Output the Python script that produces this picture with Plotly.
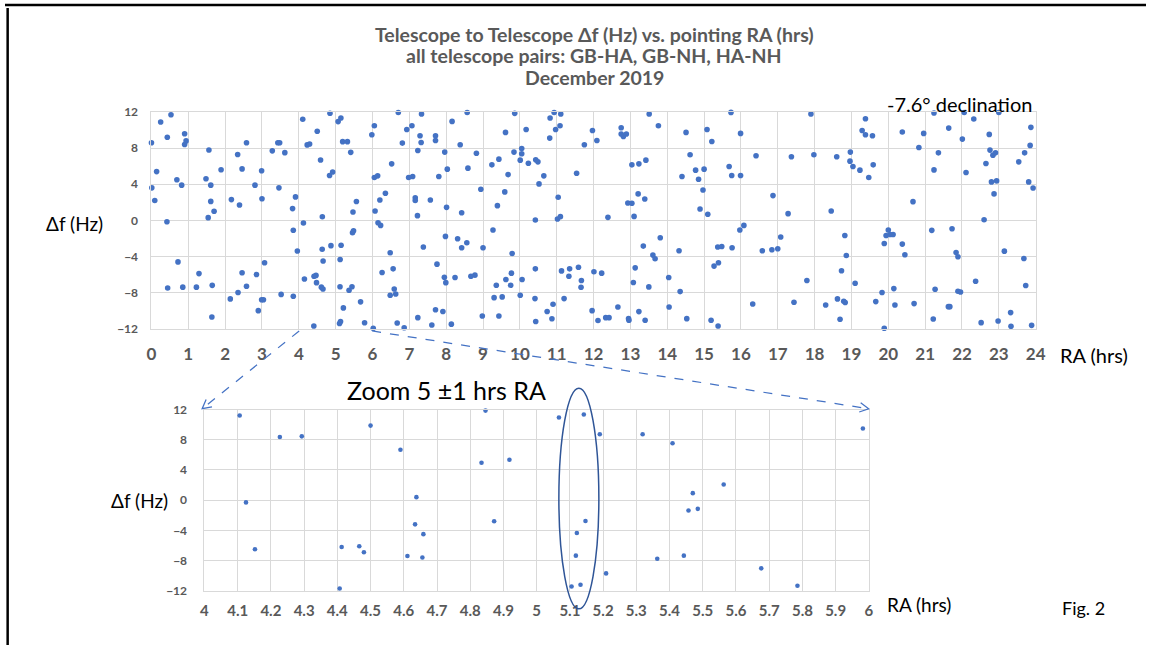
import numpy as np
import plotly.graph_objects as go

# ---------------- data (RA hours, delta f Hz) ----------------
ra_hrs = [
    0.53, 0.25, 0.00, 0.43, 0.90, 0.94, 0.90, 0.14, 0.01, 0.09, 0.69, 0.82, 0.42, 0.72, 0.44, 0.85,
    1.56, 1.48, 1.61, 1.61, 1.70, 1.54, 1.29, 1.22, 1.65, 1.64, 1.89,
    2.34, 2.46, 2.58, 2.17, 2.39, 2.81, 2.46, 2.58, 2.35, 2.14, 2.85, 2.90, 2.99,
    3.04, 2.99, 3.00, 3.07, 3.28, 3.43, 3.48, 3.62, 3.46, 3.52, 3.91, 3.83, 3.85, 3.96, 3.85,
    4.106, 4.125, 4.152, 4.227, 4.293, 4.407, 4.413, 4.466, 4.480, 4.500, 4.590, 4.638, 4.634,
    4.659, 4.611, 4.656, 4.846, 4.834, 4.918, 4.872,
    5.067, 5.142, 5.190, 5.319, 5.409, 5.982, 5.563, 5.470, 5.457, 5.485, 5.147, 5.121, 5.118,
    5.363, 5.443, 5.209, 5.676, 5.105, 5.132, 5.785,
    6.05, 6.70, 7.33, 6.93, 7.07, 6.81, 7.29, 7.32, 7.71, 7.71, 7.23, 7.96, 6.52, 6.05, 6.14,
    6.98, 7.09, 7.80, 8.03, 6.35, 6.20, 6.07, 7.16, 7.16, 7.57, 7.22, 8.01, 6.15, 6.22, 7.38,
    7.98, 6.48, 6.26, 6.56, 7.75, 7.95, 7.99, 6.59, 6.48, 6.63, 7.23, 7.71, 7.91, 6.67, 6.86,
    7.61, 8.14, 6.02,
    8.57, 8.16, 8.38, 8.82, 8.59, 8.42, 8.31, 8.42, 8.56, 9.00, 8.94, 8.24, 8.67, 8.78, 8.98,
    9.86, 9.61, 10.17, 9.24, 9.43, 9.84, 10.05, 10.05, 10.01, 9.68, 10.23, 9.59, 9.39, 9.27,
    9.79, 9.77, 9.62, 9.36, 9.75, 10.06, 10.01, 9.30, 9.52, 9.43,
    10.93, 11.11, 10.82, 10.97, 11.09, 10.81, 10.43, 10.49, 10.65, 10.52, 11.04, 10.42, 11.02,
    11.10, 10.42, 10.41, 10.43, 10.90, 10.74, 10.87, 11.13, 11.20, 11.35, 11.33, 11.59, 11.67,
    11.66, 11.54, 11.75, 11.97, 12.09, 12.01, 12.22, 11.96, 12.12,
    12.39, 12.75, 12.75, 12.81, 12.89, 13.51, 13.76, 13.04, 13.23, 13.42, 13.21, 12.93, 13.04,
    13.39, 13.10, 13.81, 13.35, 13.61, 13.67, 13.13, 13.08, 13.50, 12.66, 13.23, 12.33, 12.42,
    12.95, 12.96, 13.40,
    14.04, 14.35, 14.05, 14.32, 14.51, 14.62, 14.40, 14.77, 14.85, 15.00, 14.97, 14.89, 15.10,
    15.08, 15.21, 14.53, 15.19, 15.38, 15.27, 15.39, 15.37, 15.48, 15.76, 15.73, 15.99, 15.68,
    15.75, 15.99, 15.97, 16.08,
    16.32, 16.41, 17.37, 16.87, 17.28, 17.08, 16.58, 16.84, 17.00, 17.44, 17.90, 17.98, 17.79,
    18.30, 18.45, 18.60, 18.73, 18.62, 18.69, 18.79, 18.83, 18.82, 18.86, 18.97, 18.96, 19.04,
    19.23, 19.47, 19.59, 19.29, 19.38, 19.38, 19.57, 19.10, 19.66, 19.83, 19.89, 20.00, 19.94,
    19.89, 20.05, 20.13, 20.15, 20.18,
    20.38, 20.38, 20.45, 20.83, 20.67, 20.70, 20.96, 21.24, 21.36, 21.24, 21.18, 21.73, 21.27,
    21.22, 21.64, 22.06, 22.32, 22.01, 22.11, 21.84, 21.89, 21.89, 21.96, 21.63, 21.67, 22.37,
    22.52, 22.74, 22.76, 22.84, 22.91, 22.65, 22.80, 22.94, 22.87, 22.60, 23.00, 23.15, 22.98,
    23.32, 23.33, 23.54, 23.70, 23.87, 23.85, 23.81, 23.93, 23.68, 23.73, 23.89,
]
delta_f = [
    11.7, 10.9, 8.6, 9.2, 9.6, 8.8, 8.4, 5.4, 3.6, 2.2, 4.5, 3.9, -0.15, -4.6, -7.5, -7.4,
    7.8, 4.6, 3.9, 2.1, 1.0, 0.3, -5.9, -7.4, -7.2, -10.7, 5.6,
    7.3, 5.7, 8.6, 2.3, 1.7, 3.9, -5.8, -7.3, -8.0, -8.7, -6.0, -10.0, -8.8,
    -8.8, 5.5, 2.4, -4.7, 7.7, 8.6, 8.6, 7.5, 3.6, -8.2, 2.6, 1.3, -1.1, -3.4, -8.4,
    11.2, -0.3, -6.5, 8.36, 8.45, -11.7, -6.2, -6.1, -6.9, 9.87, 6.68, 0.4, -3.2,
    -4.5, -7.4, -7.6, 11.86, 4.96, 5.35, -2.8,
    10.94, 11.34, 8.72, 8.72, 7.53, 9.48, 2.08, 0.93, -1.37, -1.15, -2.75, -4.34, -7.35,
    -7.75, -7.35, -9.70, -9.03, -11.43, -11.2, -11.34,
    10.48, 11.95, 11.78, 10.07, 10.48, 8.56, 9.37, 8.63, 9.37, 8.85, 7.74, 7.56, 6.26, 4.74, 4.93,
    4.74, 4.85, 4.85, 5.67, 3.0, 2.26, 1.04, 2.5, 2.2, 2.26, 0.52, 1.44, -0.26, -0.56, -2.96,
    -1.78, -3.59, -5.78, -5.37, -4.85, -6.3, -6.9, -7.6, -8.3, -8.15, -10.78, -9.9, -10.1, -11.37, -11.9,
    -11.6, -11.5, -11.95,
    11.95, 10.96, 8.37, 7.44, 5.78, 0.85, -2.04, -3.04, -2.48, -3.04, 3.44, -6.33, -6.19, -6.07, -10.6,
    11.85, 9.74, 10.07, 6.15, 6.78, 7.56, 7.96, 7.37, 6.67, 5.07, 6.33, 3.15, 1.63, -1.07,
    -3.67, -5.85, -6.56, -7.19, -7.19, -6.56, -8.3, -8.56, -8.48, -10.6,
    11.95, 11.78, 11.33, 10.07, 10.48, 9.11, 6.7, 6.48, 4.93, 4.04, 2.56, 0.04, 0.15,
    0.41, -5.37, -8.67, -11.2, -9.3, -10.1, -10.9, -5.6, -8.67, -5.37, -6.19, -5.19, -6.67,
    -7.41, 5.22, 8.37, 9.96, 8.85, -5.7, -5.85, -10.0, -11.1,
    0.33, 10.26, 9.56, 9.3, 9.56, 11.78, 10.48, 6.15, 6.26, 6.67, 2.93, 1.93, 1.89,
    2.37, 0.44, -1.93, -2.85, -3.85, -4.26, -5.26, -6.89, -7.37, -9.59, -10.11, -10.78, -10.78,
    -10.89, -11.07, -11.07,
    -6.33, -7.89, -9.59, -3.37, 9.74, 7.26, 4.85, 5.56, 4.56, 5.67, 3.37, 1.26, 0.67,
    10.07, 8.74, -10.89, -11.07, -11.7, -5.07, -4.7, -2.96, -2.89, -3.04, 11.96, 9.63, 5.96,
    4.96, 4.96, -1.07, -0.56,
    -9.26, 7.15, 7.04, 2.74, 0.74, -1.85, -3.37, -3.26, -3.15, -9.07, 11.78, 7.26, -6.67,
    -9.37, 1.04, 7.04, -5.59, -8.7, -10.96, -8.96, -9.1, -1.67, -3.89, 7.56, 6.56, 5.96,
    5.56, 4.74, 6.15, 9.96, 11.26, 9.48, 9.37, -6.96, -9.0, -8.0, -11.95, -1.07, -1.67,
    -2.56, -1.56, -1.56, -7.56, -9.37,
    9.78, -2.63, -3.81, 8.07, 2.07, -9.22, 9.63, 11.89, 7.48, 5.59, -1.11, -0.93, -7.63,
    -10.93, 10.22, 11.95, 11.22, 9.0, 5.3, -3.56, -4.04, -7.85, -7.93, -9.56, -9.56, -6.74,
    -11.33, 9.52, 7.78, 7.22, 7.48, 6.3, 4.26, 4.37, 2.93, 0.07, 11.95, -3.41, -11.15,
    -10.22, -11.74, 6.48, 7.48, 10.3, 8.3, 4.26, 3.59, -4.22, -7.22, -11.63,
]

top_x_ticks = list(range(0, 25))
df_ticks = [-12, -8, -4, 0, 4, 8, 12]
zoom_x_ticks = [round(4 + 0.1 * i, 1) for i in range(21)]
zoom_range = [4, 6]

title_lines = ["Telescope to Telescope Δf (Hz) vs. pointing RA (hrs)",
               "all telescope pairs: GB-HA, GB-NH, HA-NH",
               "December 2019"]

# ---------------- figure geometry ----------------
W, H = 1156, 652
# the captured picture places the figure slightly inset/scaled; compensate
AX, SX = 2.85, 0.987
AY, SY = 9.0, 0.974


def px(x):
    return ((x - AX) / SX) / W


def py(y):
    return 1 - ((y - AY) / SY) / H


ra = np.array(ra_hrs)
df = np.array(delta_f)
mask = (ra >= zoom_range[0]) & (ra <= zoom_range[1])

BLUE = "#4472C4"
GRAY = "#595959"
GRID = "#D9D9D9"
FONT = "Lato, 'Open Sans', Arial, sans-serif"

fig = go.Figure()
fig.add_trace(go.Scatter(x=ra, y=df, mode="markers", xaxis="x", yaxis="y",
                         marker=dict(color=BLUE, size=5.6), cliponaxis=False,
                         showlegend=False, hoverinfo="x+y"))
fig.add_trace(go.Scatter(x=ra[mask], y=df[mask], mode="markers", xaxis="x2", yaxis="y2",
                         marker=dict(color=BLUE, size=4.6), cliponaxis=False,
                         showlegend=False, hoverinfo="x+y"))

axis_common = dict(showgrid=True, gridcolor=GRID, gridwidth=1, zeroline=False,
                   showline=True, linecolor=GRID, linewidth=1, mirror=True,
                   ticks="", fixedrange=True)

fig.update_layout(
    width=W, height=H,
    margin=dict(l=0, r=0, t=0, b=0),
    paper_bgcolor="white", plot_bgcolor="white",
    font=dict(family=FONT, color=GRAY),
    xaxis=dict(domain=[px(149.3), px(1033.5)], range=[0, 24], tickmode="array",
               tickvals=top_x_ticks, anchor="y",
               tickfont=dict(size=17, family=FONT, color=GRAY, weight="bold"),
               ticklabelstandoff=10, **axis_common),
    yaxis=dict(domain=[py(328.7), py(112.7)], range=[-12, 12], tickmode="array",
               tickvals=df_ticks, anchor="x",
               tickfont=dict(size=12, family=FONT, color=GRAY, weight="bold"),
               ticklabelstandoff=10, **axis_common),
    xaxis2=dict(domain=[px(202.3), px(866.7)], range=zoom_range, tickmode="array",
                tickvals=zoom_x_ticks, ticktext=[f"{v:g}" for v in zoom_x_ticks], anchor="y2",
                tickfont=dict(size=15, family=FONT, color=GRAY, weight="bold"),
                ticklabelstandoff=6, **axis_common),
    yaxis2=dict(domain=[py(590), py(409.3)], range=[-12, 12], tickmode="array",
                tickvals=df_ticks, anchor="x2",
                tickfont=dict(size=12, family=FONT, color=GRAY, weight="bold"),
                ticklabelstandoff=14, **axis_common),
)

annotations = []
for i, line in enumerate(title_lines):
    annotations.append(dict(text=f"<b>{line}</b>", x=px(592), y=py(35 + 21.5 * i),
                            xref="paper", yref="paper", showarrow=False,
                            xanchor="center", yanchor="middle",
                            font=dict(size=19.5, color=GRAY, family=FONT)))


def label(text, x, y, size, xanchor="center", color="black"):
    annotations.append(dict(text=text, x=px(x), y=py(y), xref="paper", yref="paper",
                            showarrow=False, xanchor=xanchor, yanchor="middle",
                            font=dict(size=size, color=color, family=FONT)))


label("-7.6° declination", 957, 105, 20)
label("Δf (Hz)", 72, 224, 19)
label("RA (hrs)", 1092, 355, 20)
label("Zoom 5 ±1 hrs RA", 444, 390, 25)
label("Δf (Hz)", 137, 500, 19)
label("RA (hrs)", 917, 604, 19)
label("Fig. 2", 1081, 607, 18)
fig.update_layout(annotations=annotations)

shapes = []
# frame lines (top and left)
top_y = max(py(6), 1 - 1.3 / H)
shapes.append(dict(type="line", xref="paper", yref="paper", x0=0, x1=1, y0=top_y, y1=top_y,
                   line=dict(color="black", width=2.5)))
shapes.append(dict(type="line", xref="paper", yref="paper", x0=px(5.5), x1=px(5.5), y0=0, y1=1,
                   line=dict(color="black", width=2.5)))


def dashed_arrow(x0, y0, x1, y1):
    shapes.append(dict(type="line", xref="paper", yref="paper",
                       x0=px(x0), y0=py(y0), x1=px(x1), y1=py(y1),
                       line=dict(color=BLUE, width=1.25, dash="dash")))
    ang = np.arctan2(y0 - y1, x0 - x1)
    L, spread = 10, np.radians(28)
    a1 = (x1 + L * np.cos(ang + spread), y1 + L * np.sin(ang + spread))
    a2 = (x1 + L * np.cos(ang - spread), y1 + L * np.sin(ang - spread))
    path = (f"M {px(a1[0])},{py(a1[1])} L {px(x1)},{py(y1)} L {px(a2[0])},{py(a2[1])}")
    shapes.append(dict(type="path", xref="paper", yref="paper", path=path,
                       line=dict(color=BLUE, width=1.25)))


dashed_arrow(297, 331, 200, 408.5)
dashed_arrow(370, 331, 866.5, 408.5)

# ellipse highlighting the cluster near 5.1 hrs
shapes.append(dict(type="circle", xref="paper", yref="paper",
                   x0=px(556.7), x1=px(596.7), y0=py(608), y1=py(388),
                   line=dict(color="#2F5597", width=1.5)))
fig.update_layout(shapes=shapes)

post = (
    "document.documentElement.style.margin='0';"
    "document.documentElement.style.overflow='hidden';"
    "document.body.style.margin='0';"
    "document.body.style.padding='0';"
    "document.body.style.overflow='hidden';"
)
fig.write_html("out.html", config={"displayModeBar": False}, post_script=post)
